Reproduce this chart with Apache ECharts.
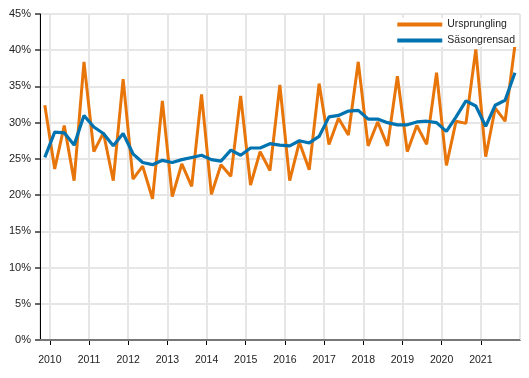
<!DOCTYPE html>
<html>
<head>
<meta charset="utf-8">
<script src="https://cdn.jsdelivr.net/npm/echarts@6/dist/echarts.min.js"></script>
<style>
  html, body { margin: 0; padding: 0; background: #fff; }
  #chart { width: 529px; height: 378px; }
</style>
</head>
<body>
<div id="chart"></div>
<script>
// Quarters from 2009 Q4 to 2021 Q4
var quarters = [
  '2009Q4',
  '2010Q1','2010Q2','2010Q3','2010Q4',
  '2011Q1','2011Q2','2011Q3','2011Q4',
  '2012Q1','2012Q2','2012Q3','2012Q4',
  '2013Q1','2013Q2','2013Q3','2013Q4',
  '2014Q1','2014Q2','2014Q3','2014Q4',
  '2015Q1','2015Q2','2015Q3','2015Q4',
  '2016Q1','2016Q2','2016Q3','2016Q4',
  '2017Q1','2017Q2','2017Q3','2017Q4',
  '2018Q1','2018Q2','2018Q3','2018Q4',
  '2019Q1','2019Q2','2019Q3','2019Q4',
  '2020Q1','2020Q2','2020Q3','2020Q4',
  '2021Q1','2021Q2','2021Q3','2021Q4'
];

var ursprunglig = [
  32.4,
  23.6, 29.6, 22.0, 38.4,
  26.0, 28.6, 22.0, 36.0,
  22.2, 24.0, 19.5, 33.0,
  19.8, 24.3, 21.2, 33.9,
  20.1, 24.2, 22.6, 33.7,
  21.4, 26.0, 23.4, 35.2,
  22.0, 27.3, 23.5, 35.4,
  27.0, 30.6, 28.3, 38.4,
  26.8, 30.1, 26.8, 36.4,
  26.0, 29.6, 27.0, 36.9,
  24.1, 30.2, 29.9, 40.1,
  25.3, 32.0, 30.2, 40.7
];

var sasongrensad = [
  25.2,
  28.7, 28.6, 26.9, 31.0,
  29.4, 28.5, 26.8, 28.5,
  25.7, 24.5, 24.2, 24.8,
  24.5, 24.9, 25.2, 25.5,
  24.9, 24.7, 26.2, 25.5,
  26.5, 26.5, 27.1, 26.9,
  26.8, 27.5, 27.2, 28.1,
  30.8, 31.0, 31.6, 31.7,
  30.5, 30.5, 30.0, 29.7,
  29.7, 30.1, 30.2, 30.0,
  28.8, 30.8, 33.0, 32.3,
  29.5, 32.4, 33.1, 36.9
];

var seriesNames = ['Ursprungling', 'Säsongrensad'];
var yTicks = [0, 5, 10, 15, 20, 25, 30, 35, 40, 45];

function quarterMid(q) {
  var y = q.slice(0, 4);
  var n = parseInt(q.slice(5), 10);
  var m = (n - 1) * 3 + 2;
  return y + '-' + (m < 10 ? '0' + m : m) + '-15';
}

function pairs(vals) {
  return quarters.map(function (q, i) { return [quarterMid(q), vals[i]]; });
}

var font = '"Liberation Sans", Arial, sans-serif';
var chart = echarts.init(document.getElementById('chart'), null, { renderer: 'canvas' });

chart.setOption({
  animation: false,
  backgroundColor: '#fff',
  grid: { left: 40, right: 9, top: 14, bottom: 38, containLabel: false },
  legend: {
    data: seriesNames,
    orient: 'vertical',
    right: 10,
    top: 18,
    icon: 'rect',
    itemWidth: 45,
    itemHeight: 4,
    itemGap: 3,
    padding: [0, 4, 0, 4],
    backgroundColor: '#fff',
    textStyle: { fontFamily: font, fontSize: 10.5, color: '#222', lineHeight: 13 }
  },
  xAxis: {
    type: 'time',
    min: '2009-10-01',
    max: '2022-01-01',
    minInterval: 365 * 24 * 3600 * 1000,
    maxInterval: 366 * 24 * 3600 * 1000,
    offset: 4,
    axisLine: { show: true, lineStyle: { color: '#000', width: 1 } },
    axisTick: { show: true, length: 5, lineStyle: { color: '#000' } },
    axisLabel: {
      fontFamily: font, fontSize: 10.5, color: '#222', margin: 11,
      showMinLabel: false, showMaxLabel: false,
      formatter: function (v) { return String(new Date(v).getFullYear()); }
    },
    splitLine: { show: true, lineStyle: { color: '#e6e6e6', width: 2 } }
  },
  yAxis: {
    type: 'value',
    min: yTicks[0],
    max: yTicks[yTicks.length - 1],
    interval: 5,
    axisLine: { show: true, lineStyle: { color: '#000', width: 1 } },
    axisTick: { show: true, length: 5, lineStyle: { color: '#666', width: 2 } },
    axisLabel: {
      fontFamily: font, fontSize: 11, color: '#222', margin: 9,
      formatter: function (v) { return v + '%'; }
    },
    splitLine: { show: true, lineStyle: { color: '#e6e6e6', width: 2 } }
  },
  series: [
    {
      name: seriesNames[0],
      type: 'line',
      data: pairs(ursprunglig),
      showSymbol: false,
      symbol: 'none',
      color: '#E8750A',
      lineStyle: { color: '#E8750A', width: 3, join: 'bevel' },
      markLine: {
        silent: true,
        symbol: 'none',
        label: { show: false },
        lineStyle: { color: '#777', width: 2, type: 'solid' },
        data: [{ yAxis: 0 }]
      },
      z: 2
    },
    {
      name: seriesNames[1],
      type: 'line',
      data: pairs(sasongrensad),
      showSymbol: false,
      symbol: 'none',
      color: '#0073B0',
      lineStyle: { color: '#0073B0', width: 3.2, join: 'bevel' },
      z: 3
    }
  ]
});
</script>
</body>
</html>
